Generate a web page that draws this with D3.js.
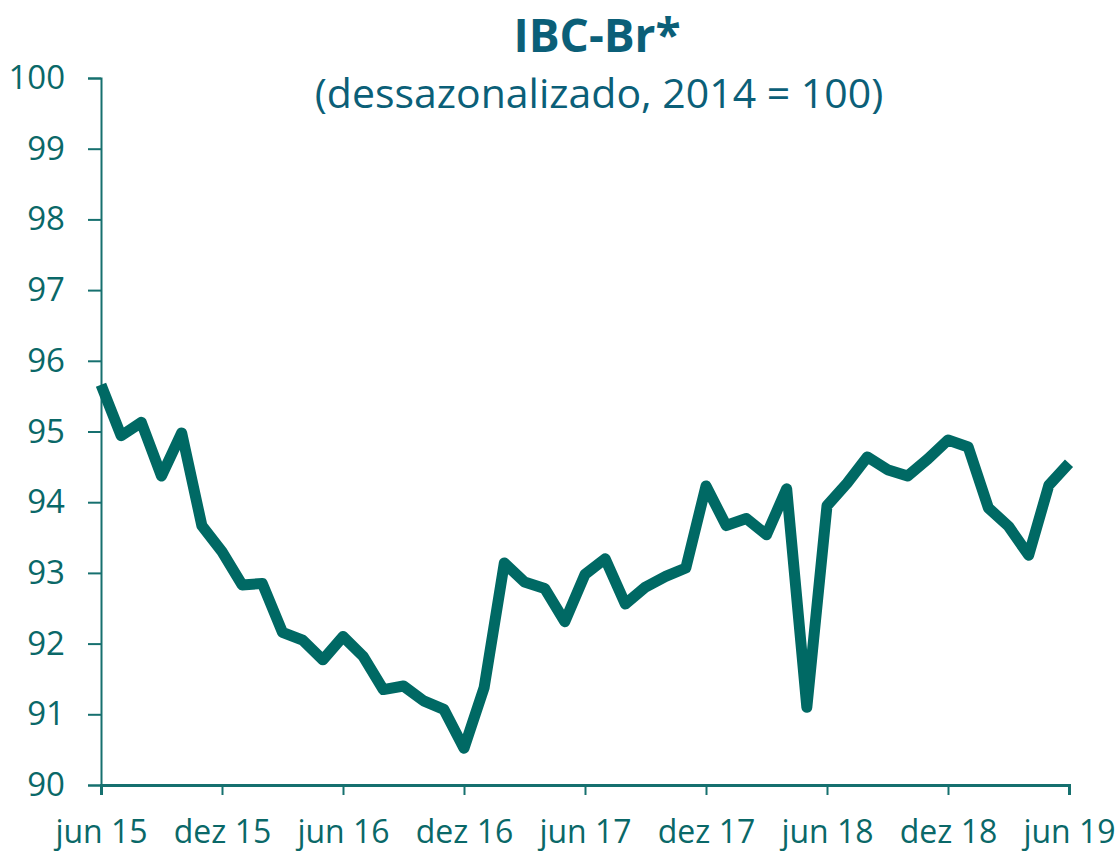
<!DOCTYPE html>
<html>
<head>
<meta charset="utf-8">
<script src="https://cdn.jsdelivr.net/npm/d3@7"></script>
<style>
  body { margin: 0; background: #fff; }
  svg text { font-family: "Open Sans", "Noto Sans", sans-serif; }
</style>
</head>
<body>
<div id="figure"></div>
<script>
// monthly IBC-Br, jun 15 .. jun 19
var months = d3.range(49);
var values = [
  95.66, 94.94, 95.13, 94.37, 94.98, 93.67, 93.30, 92.83, 92.85, 92.16,
  92.05, 91.77, 92.10, 91.82, 91.35, 91.40, 91.19, 91.07, 90.52, 91.38,
  93.14, 92.87, 92.78, 92.31, 92.98, 93.20, 92.56, 92.80, 92.95, 93.07,
  94.23, 93.67, 93.77, 93.54, 94.19, 91.10, 93.95, 94.27, 94.64, 94.46,
  94.37, 94.61, 94.88, 94.78, 93.92, 93.66, 93.25, 94.24, 94.55
];
var xTickMonths = [0, 6, 12, 18, 24, 30, 36, 42, 48];
var xTickLabels = ["jun 15", "dez 15", "jun 16", "dez 16", "jun 17", "dez 17", "jun 18", "dez 18", "jun 19"];
var yTicks = [90, 91, 92, 93, 94, 95, 96, 97, 98, 99, 100];

var data = months.map((m, i) => ({m: m, v: values[i]}));

const W = 1120, H = 854;
const margin = {top: 78, right: 51, bottom: 69, left: 101},
  width = W - margin.left - margin.right,
  height = H - margin.top - margin.bottom;

const svg = d3.select("#figure").append("svg")
  .attr("width", W).attr("height", H);

// titles
svg.append("text")
  .attr("x", 597).attr("y", 52)
  .attr("text-anchor", "middle")
  .attr("font-size", 46).attr("font-weight", "bold")
  .attr("fill", "#0b5f78")
  .text("IBC-Br*");
svg.append("text")
  .attr("x", 599).attr("y", 108)
  .attr("text-anchor", "middle")
  .attr("font-size", 41)
  .attr("fill", "#0b5f78")
  .text("(dessazonalizado, 2014 = 100)");

const g = svg.append("g")
  .attr("transform", `translate(${margin.left},${margin.top})`);

const x = d3.scaleLinear().domain([0, 48]).range([0, width]);
const y = d3.scaleLinear().domain([90, 100]).range([height, 0]);

const axisColor = "#16706f";

// Y axis
const yAxis = g.append("g")
  .call(d3.axisLeft(y).tickValues(yTicks).tickFormat(d3.format("d")).tickSize(13).tickPadding(23));
yAxis.select(".domain").attr("stroke", axisColor).attr("stroke-width", 2);
yAxis.selectAll(".tick line").attr("stroke", axisColor).attr("stroke-width", 2);
yAxis.selectAll(".tick text")
  .attr("font-size", 33).attr("fill", "#0a6868")
  .attr("font-family", "Open Sans, sans-serif");

// X axis
const xAxis = g.append("g")
  .attr("transform", `translate(0,${height})`)
  .call(d3.axisBottom(x).tickValues(xTickMonths)
    .tickFormat((d, i) => xTickLabels[i]).tickSize(10).tickPadding(25));
xAxis.select(".domain").attr("stroke", axisColor).attr("stroke-width", 3);
xAxis.selectAll(".tick line").attr("stroke", axisColor).attr("stroke-width", 2);
xAxis.selectAll(".tick text")
  .attr("font-size", 32).attr("fill", "#0a6868")
  .attr("font-family", "Open Sans, sans-serif");

// line
const line = d3.line()
  .x(d => x(d.m))
  .y(d => y(d.v));

g.append("path")
  .datum(data)
  .attr("fill", "none")
  .attr("stroke", "#006964")
  .attr("stroke-width", 11)
  .attr("stroke-linejoin", "round")
  .attr("d", line);
</script>
</body>
</html>
